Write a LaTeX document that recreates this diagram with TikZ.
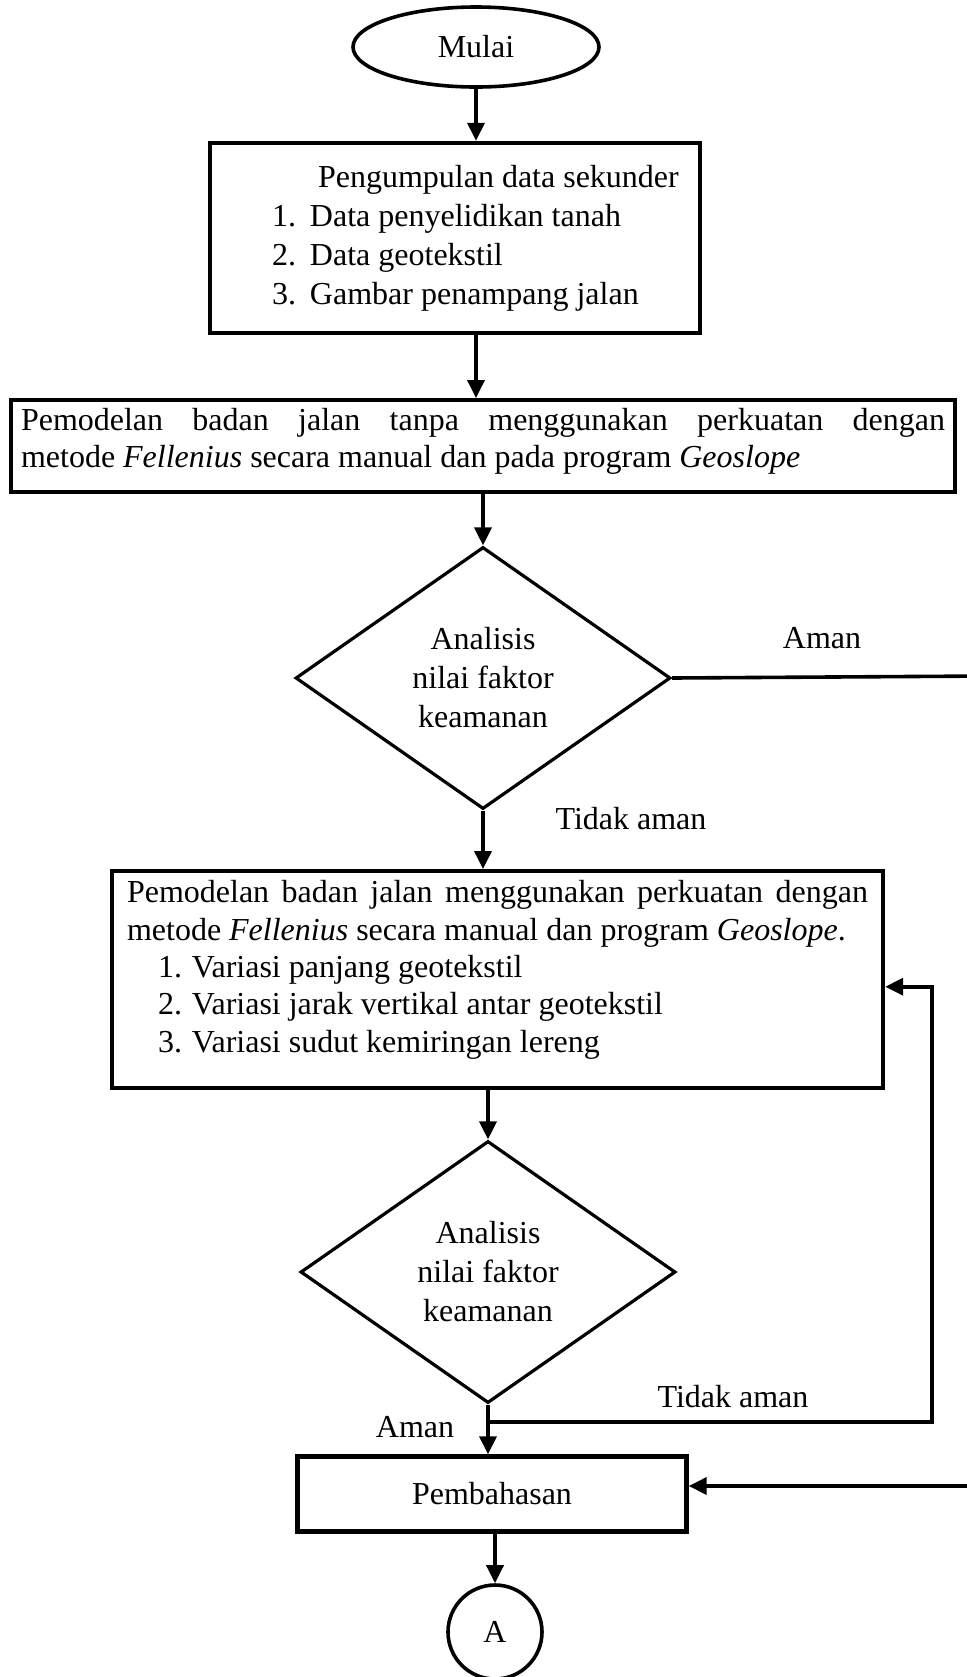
\documentclass[tikz,border=0pt]{standalone}
\usepackage{fontspec}
\setmainfont{Liberation Serif}
\usepackage{tikz}
\usetikzlibrary{arrows.meta,positioning}
\usetikzlibrary{shapes.geometric}
\setlength{\parindent}{0pt}
\newlength{\nomorlebar}
\setlength{\nomorlebar}{19pt}

\begin{document}
\begin{tikzpicture}[
      x=0.5pt,
      y=-0.5pt,
      font=\fontsize{16pt}{19.5pt}\selectfont,
      terminal/.style = {draw, line width=1.8pt, ellipse, minimum width=123pt, minimum height=40pt},
      prosesbox/.style = {draw, line width=2.2pt, rectangle},
      rapat/.style = {font=\fontsize{16pt}{18.7pt}\selectfont, text height=11pt},
      keputusan/.style = {draw, line width=1.6pt, diamond, aspect=1.43, inner sep=0pt,
        minimum width=187.5pt, minimum height=131pt, align=center},
      penghubung/.style = {draw, line width=1.8pt, circle, minimum size=47pt, inner sep=0pt},
      alur/.style = {line width=1.8pt, -{Triangle[length=9pt,width=8.5pt]}},
      keterangan/.style = {inner sep=0pt},
  ]
  \useasboundingbox (0,0) rectangle (967,1677);
  \clip (0,0) rectangle (967,1677);
  % ┌────────┐
  % │ Proses │
  % └────────┘
  \node[terminal] (mulai) at (476,47) {Mulai};
  \node[prosesbox, text width=245pt, inner xsep=0pt, minimum height=95pt, align=flush left] (kumpul) at (455,238) {%
    \hspace*{54pt}Pengumpulan data sekunder\\
    \hspace*{31pt}\makebox[\nomorlebar][l]{1.}Data penyelidikan tanah\\
    \hspace*{31pt}\makebox[\nomorlebar][l]{2.}Data geotekstil\\
    \hspace*{31pt}\makebox[\nomorlebar][l]{3.}Gambar penampang jalan};
  \node[prosesbox, rapat, anchor=north, text width=462pt, inner xsep=5pt, inner ysep=4pt, text depth=27pt, align=justify] (model1) at (483,398) {Pemodelan badan jalan tanpa menggunakan perkuatan dengan\linebreak
    metode \textit{Fellenius} secara manual dan pada program \textit{Geoslope}};
  \node[keputusan] (analisis1) at (483,678) {Analisis\\nilai faktor\\keamanan};
  \node[prosesbox, rapat, anchor=north, text width=370.5pt, inner xsep=7.5pt, inner ysep=4.75pt, text depth=88pt, align=justify] (model2) at (497.5,869) {Pemodelan badan jalan menggunakan perkuatan dengan\linebreak
    metode \textit{Fellenius} secara manual dan program \textit{Geoslope}.\\
    \hspace*{15.5pt}\makebox[17pt][l]{1.}Variasi panjang geotekstil\\
    \hspace*{15.5pt}\makebox[17pt][l]{2.}Variasi jarak vertikal antar geotekstil\\
    \hspace*{15.5pt}\makebox[17pt][l]{3.}Variasi sudut kemiringan lereng};
  \node[keputusan] (analisis2) at (488,1272) {Analisis\\nilai faktor\\keamanan};
  \node[prosesbox, minimum width=194.5pt, minimum height=37.5pt] (bahas) at (492,1494) {Pembahasan};
  \node[penghubung] (lingA) at (495,1632) {A};
  % ┌────────────┐
  % │ Keterangan │
  % └────────────┘
  \node[keterangan] (aman1) at (822,638) {Aman};
  \node[keterangan] (tidak1) at (631,819) {Tidak aman};
  \node[keterangan] (tidak2) at (733,1397) {Tidak aman};
  \node[keterangan] (aman2) at (415,1427) {Aman};
  % ┌──────────────────┐
  % │ Garis penghubung │
  % └──────────────────┘
  \coordinate (tepikanan) at (990,676);
  \coordinate (balik) at (932,1422);
  \coordinate (cabang) at (analisis2.south |- balik);
  \draw[alur] (mulai.south) -- (mulai.south |- kumpul.north);
  \draw[alur] (mulai.south |- kumpul.south) -- (mulai.south |- model1.north);
  \draw[alur] (model1.south -| analisis1.north) -- (analisis1.north);
  \draw[alur] (analisis1.south) -- (analisis1.south |- model2.north);
  \draw[alur] (model2.south -| analisis2.north) -- (analisis2.north);
  \draw[alur] (analisis2.south) -- (analisis2.south |- bahas.north);
  \draw[alur] (bahas.south -| lingA.north) -- (lingA.north);
  \draw[alur] (analisis1.east) -- (tepikanan) |- ([yshift=4pt]bahas.east);
  \draw[alur] (cabang) -- (balik) |- ([yshift=-3.5pt]model2.east);
\end{tikzpicture}
\end{document}
